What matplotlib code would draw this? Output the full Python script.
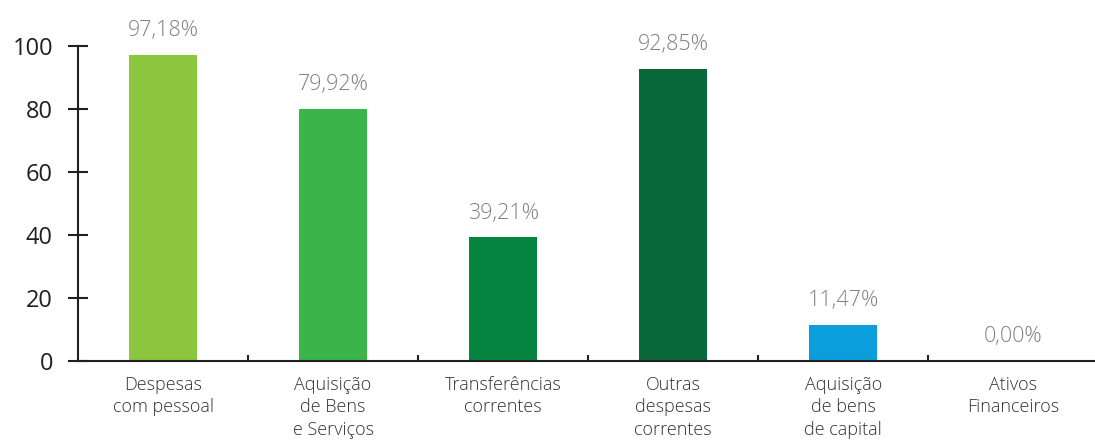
import matplotlib.pyplot as plt
from matplotlib.ticker import FixedLocator

categorias = ["Despesas\ncom pessoal", "Aquisição\nde Bens\ne Serviços", "Transferências\ncorrentes",
              "Outras\ndespesas\ncorrentes", "Aquisição\nde bens\nde capital", "Ativos\nFinanceiros"]
valores = [97.18, 79.92, 39.21, 92.85, 11.47, 0.00]
rotulos = ["97,18%", "79,92%", "39,21%", "92,85%", "11,47%", "0,00%"]
cores = ["#8CC63F", "#3AB54A", "#06843F", "#08683A", "#0A9FDC", "#0A9FDC"]
yticks = [0, 20, 40, 60, 80, 100]

plt.rcParams['font.family'] = ['Open Sans', 'DejaVu Sans']

fig = plt.figure(figsize=(10.95, 4.48), dpi=100)
ax = fig.add_axes([78 / 1095, 87 / 448, 1017 / 1095, 315 / 448])

x = list(range(len(valores)))
ax.bar(x, valores, width=0.4, color=cores)
for xi, v, r in zip(x, valores, rotulos):
    ax.annotate(r, (xi, v), xytext=(0, 10), textcoords="offset points",
                ha="center", va="bottom", fontsize=15.5, color="#808080", fontweight="light")

ax.set_xlim(-0.5, 5.48)
ax.set_ylim(0, 100)
ax.set_yticks(yticks)
ax.set_yticklabels([str(t) for t in yticks], fontsize=17, color="#231F20")
ax.set_xticks(x)
ax.set_xticklabels(categorias, fontsize=13, color="#333333", linespacing=1.3, va="top",
                   fontweight="light")
ax.xaxis.set_minor_locator(FixedLocator([0.5, 1.5, 2.5, 3.5, 4.5]))

ax.tick_params(axis="x", which="major", length=0, pad=11)
ax.tick_params(axis="x", which="minor", direction="in", length=4, width=1.5, color="#231F20")
ax.tick_params(axis="y", direction="inout", length=14, width=1.5, color="#231F20", pad=11)

for s in ["top", "right"]:
    ax.spines[s].set_visible(False)
for s in ["left", "bottom"]:
    ax.spines[s].set_linewidth(1.5)
    ax.spines[s].set_color("#231F20")

fig.savefig("out.png", dpi=100)
